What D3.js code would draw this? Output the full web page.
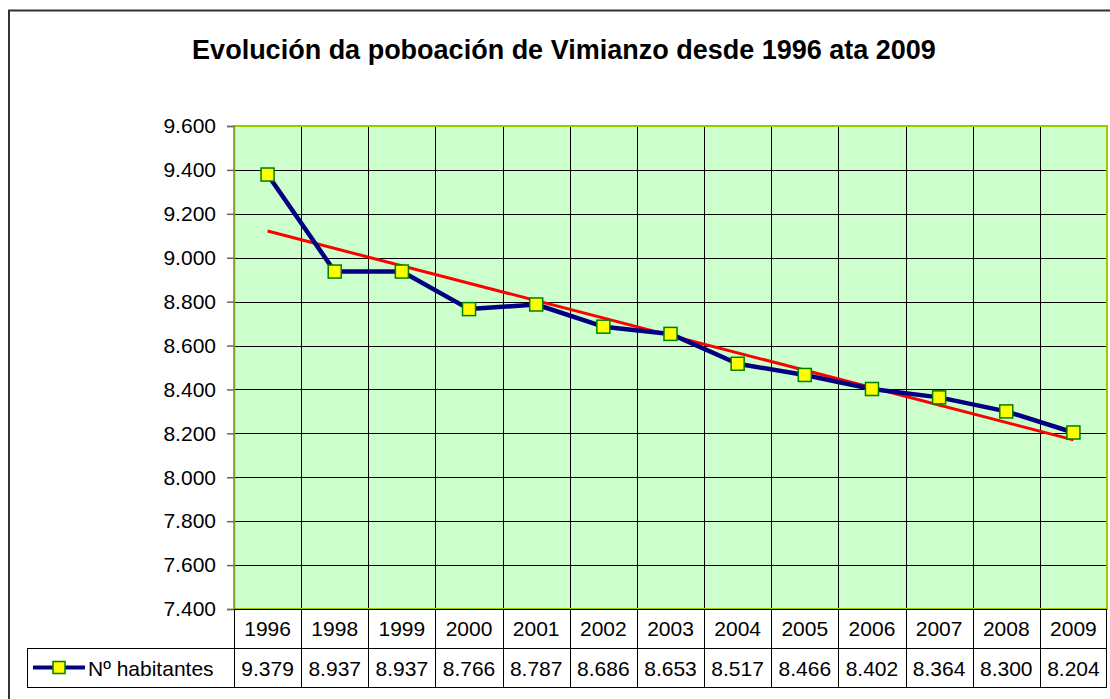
<!DOCTYPE html>
<html lang="gl">
<head>
<meta charset="utf-8">
<title>Evolución da poboación de Vimianzo</title>
<script src="https://d3js.org/d3.v7.min.js"></script>
<style>
  body { margin: 0; background: #fff; }
  svg { display: block; font-family: "Liberation Sans", Arial, sans-serif; }
</style>
</head>
<body>
<div id="chart"></div>
<script>
// data
const years = ["1996", "1998", "1999", "2000", "2001", "2002", "2003", "2004", "2005", "2006", "2007", "2008", "2009"];
const habitantes = [9379, 8937, 8937, 8766, 8787, 8686, 8653, 8517, 8466, 8402, 8364, 8300, 8204];
const yTicks = [7400, 7600, 7800, 8000, 8200, 8400, 8600, 8800, 9000, 9200, 9400, 9600];
const seriesName = "Nº habitantes";
const title = "Evolución da poboación de Vimianzo desde 1996 ata 2009";

const width = 1110, height = 699;
const plot = { left: 234, right: 1107, top: 126, bottom: 609 };
const rowH = 39;
const tableLeft = 27;
const fs = 21;

// spanish/galician style thousands separator
const fmt3 = n => d3.format(",.0f")(n).replace(/,/g, ".");

const svg = d3.select("#chart").append("svg")
  .attr("width", width).attr("height", height);

// outer chart border
svg.append("rect")
  .attr("x", 9).attr("y", 10.5)
  .attr("width", width + 20).attr("height", height + 20)
  .attr("fill", "#fff").attr("stroke", "#333").attr("stroke-width", 2);

svg.append("text")
  .attr("x", 564).attr("y", 59)
  .attr("text-anchor", "middle")
  .attr("font-size", 27).attr("font-weight", "bold")
  .text(title);

const x = d3.scaleBand().domain(years).range([plot.left, plot.right]);
const y = d3.scaleLinear().domain([7400, 9600]).range([plot.bottom, plot.top]);

// plot background
svg.append("rect")
  .attr("x", plot.left).attr("y", plot.top)
  .attr("width", plot.right - plot.left).attr("height", plot.bottom - plot.top)
  .attr("fill", "#CCFFCC");

// horizontal grid
svg.append("g").selectAll("line").data(yTicks.slice(1)).join("line")
  .attr("x1", plot.left).attr("x2", plot.right)
  .attr("y1", d => Math.round(y(d)) + 0.5).attr("y2", d => Math.round(y(d)) + 0.5)
  .attr("stroke", "#000").attr("stroke-width", 1);

// vertical grid (category borders), extending through the data table
svg.append("g").selectAll("line").data(years.slice(1)).join("line")
  .attr("x1", d => Math.round(x(d)) + 0.5).attr("x2", d => Math.round(x(d)) + 0.5)
  .attr("y1", plot.top).attr("y2", plot.bottom + 2 * rowH)
  .attr("stroke", "#000").attr("stroke-width", 1);

// plot border
svg.append("rect")
  .attr("x", plot.left).attr("y", plot.top)
  .attr("width", plot.right - plot.left).attr("height", plot.bottom - plot.top)
  .attr("fill", "none").attr("stroke", "#99CC00").attr("stroke-width", 2);

// y axis
const yAxis = svg.append("g")
  .attr("transform", `translate(${plot.left},0)`)
  .call(d3.axisLeft(y).tickValues(yTicks).tickFormat(fmt3).tickSize(7).tickPadding(11));
yAxis.select(".domain").attr("stroke", "#8a9a2a").attr("stroke-width", 1.5);
yAxis.selectAll(".tick line").attr("stroke", "#666").attr("stroke-width", 1.5);
yAxis.selectAll(".tick text")
  .attr("font-size", fs).attr("fill", "#000")
  .attr("font-family", "Liberation Sans, Arial, sans-serif");

// data table
const t = svg.append("g");
t.append("line").attr("x1", plot.left).attr("x2", plot.right)
  .attr("y1", plot.bottom + 0.5).attr("y2", plot.bottom + 0.5).attr("stroke", "#000");
t.append("line").attr("x1", tableLeft).attr("x2", plot.right)
  .attr("y1", plot.bottom + rowH + 0.5).attr("y2", plot.bottom + rowH + 0.5).attr("stroke", "#000");
t.append("line").attr("x1", tableLeft).attr("x2", plot.right)
  .attr("y1", plot.bottom + 2 * rowH + 0.5).attr("y2", plot.bottom + 2 * rowH + 0.5).attr("stroke", "#000");
t.append("line").attr("x1", tableLeft + 0.5).attr("x2", tableLeft + 0.5)
  .attr("y1", plot.bottom + rowH).attr("y2", plot.bottom + 2 * rowH).attr("stroke", "#000");
t.append("line").attr("x1", plot.left + 0.5).attr("x2", plot.left + 0.5)
  .attr("y1", plot.bottom).attr("y2", plot.bottom + 2 * rowH).attr("stroke", "#000");
t.append("line").attr("x1", plot.right - 0.5).attr("x2", plot.right - 0.5)
  .attr("y1", plot.bottom).attr("y2", plot.bottom + 2 * rowH).attr("stroke", "#000");

t.selectAll("text.yr").data(years).join("text")
  .attr("class", "yr")
  .attr("x", d => x(d) + x.bandwidth() / 2)
  .attr("y", plot.bottom + 27)
  .attr("text-anchor", "middle").attr("font-size", fs)
  .text(d => d);

t.selectAll("text.val").data(habitantes).join("text")
  .attr("class", "val")
  .attr("x", (d, i) => x(years[i]) + x.bandwidth() / 2)
  .attr("y", plot.bottom + rowH + 28)
  .attr("text-anchor", "middle").attr("font-size", fs)
  .text(d => fmt3(d));

// legend key in table
const ly = plot.bottom + rowH * 1.5;
t.append("line").attr("x1", 33).attr("x2", 85).attr("y1", ly).attr("y2", ly)
  .attr("stroke", "#000080").attr("stroke-width", 4);
t.append("rect").attr("x", 53).attr("y", ly - 6).attr("width", 12).attr("height", 12)
  .attr("fill", "#FFFF00").attr("stroke", "#008000").attr("stroke-width", 1.5);
t.append("text").attr("x", 88).attr("y", plot.bottom + rowH + 28).attr("font-size", fs).text(seriesName);

// linear trend line (least squares on category index)
const n = habitantes.length;
const mx = d3.mean(habitantes, (d, i) => i);
const my = d3.mean(habitantes);
const slope = d3.sum(habitantes, (d, i) => (i - mx) * (d - my)) / d3.sum(habitantes, (d, i) => (i - mx) * (i - mx));
const icpt = my - slope * mx;
const cx = i => x(years[i]) + x.bandwidth() / 2;

svg.append("line")
  .attr("x1", cx(0)).attr("y1", y(icpt))
  .attr("x2", cx(n - 1)).attr("y2", y(icpt + slope * (n - 1)))
  .attr("stroke", "#FF0000").attr("stroke-width", 3);

// series line
const line = d3.line().x((d, i) => cx(i)).y(d => y(d));
svg.append("path").datum(habitantes)
  .attr("d", line).attr("fill", "none")
  .attr("stroke", "#000080").attr("stroke-width", 4.5).attr("stroke-linejoin", "round");

// markers
svg.append("g").selectAll("rect").data(habitantes).join("rect")
  .attr("x", (d, i) => cx(i) - 6.5).attr("y", d => y(d) - 6.5)
  .attr("width", 13).attr("height", 13)
  .attr("fill", "#FFFF00").attr("stroke", "#008000").attr("stroke-width", 1.5);
</script>
</body>
</html>
